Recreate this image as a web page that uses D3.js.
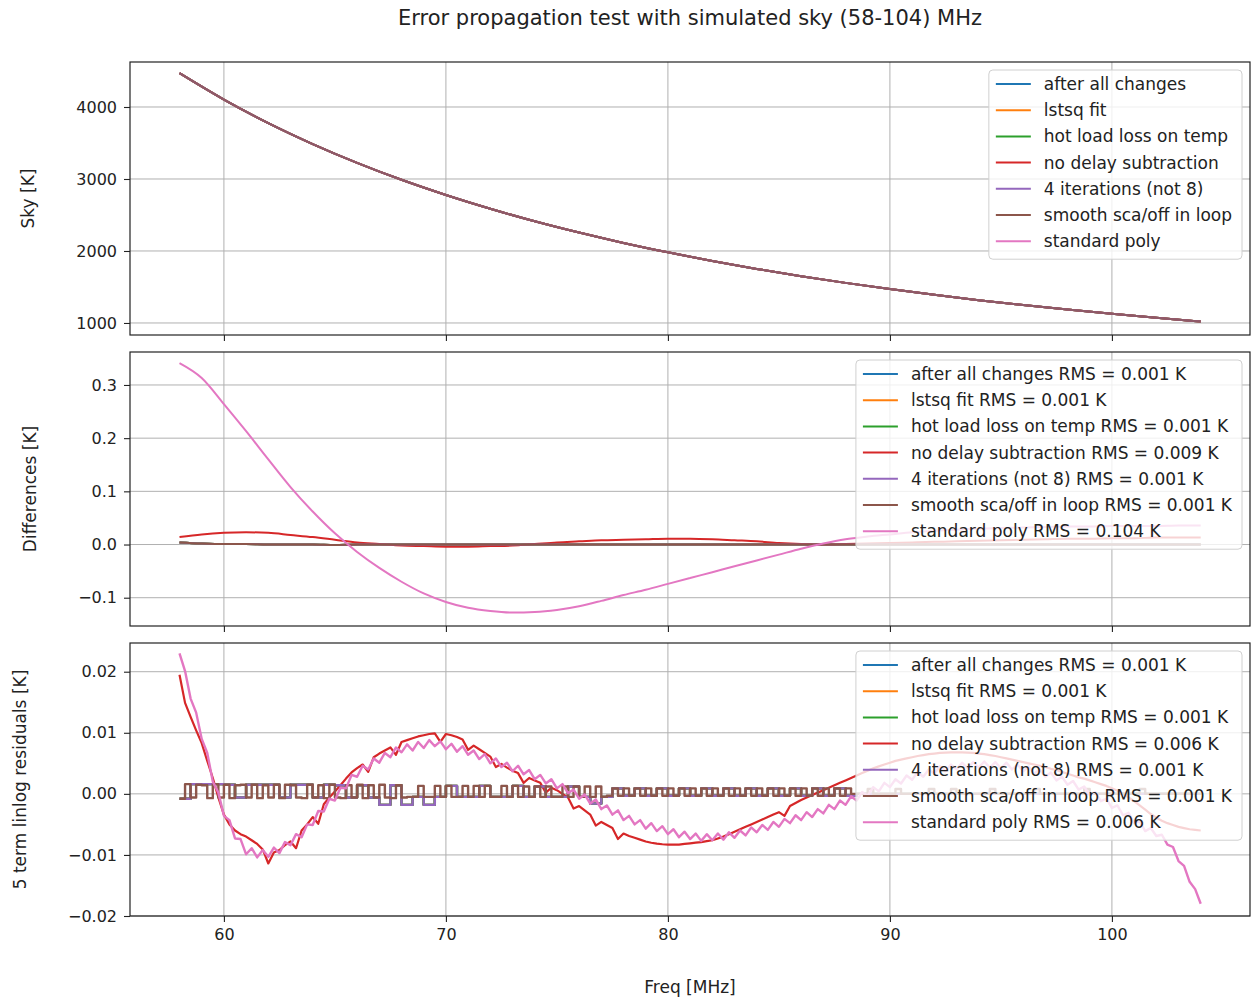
<!DOCTYPE html>
<html>
<head>
<meta charset="utf-8">
<script src="https://cdn.jsdelivr.net/npm/d3@7"></script>
<style>
  body { margin: 0; background: #fff; }
  svg text { font-family: "DejaVu Sans", sans-serif; fill: #222; }
</style>
</head>
<body>
<svg id="chart" width="1252" height="1000"></svg>
<script>
// ---- data ----
const seriesNames = [
  'after all changes',
  'lstsq fit',
  'hot load loss on temp',
  'no delay subtraction',
  '4 iterations (not 8)',
  'smooth sca/off in loop',
  'standard poly',
];
const seriesColors = d3.schemeCategory10.slice(0, 7);
const rmsDiff = ['0.001', '0.001', '0.001', '0.009', '0.001', '0.001', '0.104'];
const rmsResid = ['0.001', '0.001', '0.001', '0.006', '0.001', '0.001', '0.006'];
const xTicks = [60, 70, 80, 90, 100];

// top panel: sky temperature every 2 MHz, all seven runs sit on top of each other
const freqSky = d3.range(58, 105, 2);
const skyTemp = [4470, 4103, 3776, 3485, 3224, 2989, 2778, 2587, 2413, 2256,
  2112, 1981, 1861, 1751, 1650, 1557, 1471, 1391, 1317, 1249,
  1186, 1127, 1072, 1020];

// middle panel: differences every 1 MHz
const freqDiff = d3.range(58, 104.5, 1);
const diffPoly = [0.341, 0.313, 0.264, 0.213, 0.160, 0.108, 0.062, 0.021, -0.014, -0.044,
  -0.070, -0.092, -0.108, -0.119, -0.125, -0.128, -0.127, -0.123, -0.116, -0.106,
  -0.095, -0.085, -0.074, -0.063, -0.052, -0.041, -0.030, -0.019, -0.008, 0.002,
  0.010, 0.015, 0.019, 0.023, 0.026, 0.028, 0.030, 0.031, 0.032, 0.033,
  0.034, 0.034, 0.035, 0.035, 0.035, 0.036, 0.036];
const diffNoDelay = [0.014, 0.019, 0.022, 0.023, 0.022, 0.018, 0.014, 0.009, 0.004, 0.001,
  -0.002, -0.003, -0.004, -0.004, -0.003, -0.002, 0.001, 0.004, 0.006, 0.008,
  0.009, 0.010, 0.011, 0.011, 0.010, 0.008, 0.006, 0.003, 0.001, 0.000,
  0.001, 0.002, 0.003, 0.004, 0.005, 0.006, 0.007, 0.008, 0.009, 0.010,
  0.011, 0.011, 0.012, 0.012, 0.013, 0.013, 0.013];
const diffBase = [0.004, 0.002, 0.001, 0.001, 0.000, 0.000, 0.000, -0.001, 0.000, 0.000,
  0.000, 0.000, 0.000, 0.000, 0.000, 0.000, 0.000, 0.000, 0.000, 0.000,
  0.000, 0.000, 0.000, 0.000, 0.000, 0.000, 0.000, 0.000, 0.000, 0.000,
  0.000, 0.000, 0.000, 0.000, 0.000, 0.000, 0.000, 0.000, 0.000, 0.000,
  0.000, 0.000, 0.000, 0.000, 0.000, 0.000, 0.000];

// bottom panel: residuals in mK
const freqQuarter = d3.range(0, 185).map(i => 58 + i * 0.25);
const freqHalf = d3.range(0, 93).map(i => 58 + i * 0.5);
const resPoly = [23.0, 20.1, 15.6, 13.3, 9.0, 6.7, 2.0, 0.2, -3.6, -4.3,
  -7.3, -7.4, -9.9, -8.9, -10.4, -9.2, -10.3, -8.8, -9.7, -7.9,
  -8.4, -6.6, -7.1, -5.0, -5.1, -2.8, -2.9, -0.8, -1.1, 1.0,
  0.9, 3.1, 2.8, 4.6, 4.0, 5.8, 5.1, 6.7, 6.0, 7.6,
  6.8, 8.1, 7.1, 8.5, 7.5, 8.8, 7.8, 8.6, 7.3, 8.2,
  6.9, 7.8, 6.4, 7.1, 5.7, 6.5, 5.0, 5.8, 4.4, 5.1,
  3.7, 4.6, 3.2, 3.9, 2.4, 3.1, 1.7, 2.4, 0.9, 1.6,
  0.1, 0.7, -0.8, -0.1, -1.6, -0.9, -2.5, -1.9, -3.4, -2.7,
  -4.3, -3.6, -5.0, -4.3, -5.7, -4.8, -6.1, -5.3, -6.6, -5.8,
  -7.1, -6.2, -7.4, -6.5, -7.7, -6.6, -7.6, -6.5, -7.5, -6.3,
  -7.2, -6.0, -6.8, -5.5, -6.3, -5.1, -5.9, -4.6, -5.4, -4.1,
  -4.8, -3.5, -4.3, -3.0, -3.8, -2.5, -3.2, -1.8, -2.5, -1.1,
  -1.8, -0.4, -1.1, 0.3, -0.3, 1.1, 0.4, 1.8, 1.1, 2.4,
  1.7, 3.0, 2.3, 3.6, 2.8, 4.0, 3.3, 4.5, 3.7, 4.8,
  4.0, 5.1, 4.2, 5.2, 4.3, 5.3, 4.3, 5.2, 4.2, 5.1,
  4.0, 4.8, 3.7, 4.5, 3.3, 4.0, 2.8, 3.5, 2.2, 2.8,
  1.5, 2.1, 0.7, 1.2, -0.2, 0.3, -1.2, -0.8, -2.3, -1.9,
  -3.5, -3.1, -4.8, -4.5, -6.1, -5.6, -6.9, -6.7, -8.3, -8.7,
  -11.0, -11.8, -14.4, -15.6, -18.0];
const resNoDelay = [19.5, 14.9, 12.6, 10.4, 8.3, 5.4, 2.6, -0.6, -3.4, -5.0,
  -6.0, -6.6, -7.0, -7.6, -8.2, -9.1, -11.4, -9.6, -9.2, -8.4,
  -7.8, -8.9, -6.0, -5.0, -3.8, -4.9, -1.7, -0.6, 0.4, 1.4,
  2.5, 3.5, 4.2, 4.8, 3.6, 6.0, 6.6, 7.1, 7.6, 6.4,
  8.5, 8.8, 9.1, 9.4, 9.6, 9.8, 9.9, 8.5, 9.8, 9.6,
  9.3, 8.9, 7.2, 7.9, 7.3, 6.7, 6.1, 4.4, 4.9, 4.3,
  3.8, 3.4, 1.8, 2.6, 2.2, 1.8, 0.2, 1.0, 0.6, 0.0,
  -0.6, -2.4, -2.0, -2.7, -3.4, -5.2, -4.6, -5.1, -5.6, -7.4,
  -6.5, -6.9, -7.2, -7.5, -7.8, -8.0, -8.15, -8.25, -8.3, -8.3,
  -8.3, -8.2, -8.1, -8.0, -7.9, -7.75, -7.6, -7.3, -7.0, -6.6,
  -6.2, -5.8, -5.4, -5.0, -4.6, -4.2, -3.8, -3.4, -3.0, -3.6,
  -2.0, -1.5, -1.0, -0.6, -0.2, 0.2, 0.6, 1.0, 1.4, 1.8,
  2.2, 2.6, 3.0, 3.4, 3.8, 4.2, 4.5, 4.8, 5.1, 5.4,
  5.6, 5.8, 6.0, 6.2, 6.35, 6.5, 6.6, 6.7, 6.75, 6.8,
  6.8, 6.8, 6.75, 6.7, 6.6, 6.5, 6.35, 6.2, 6.0, 5.8,
  5.6, 5.4, 5.2, 5.0, 4.8, 4.6, 4.4, 4.1, 3.9, 3.6,
  3.3, 3.0, 2.7, 2.5, 2.2, 1.9, 1.6, 1.3, 0.9, 0.5,
  0.0, -0.6, -1.2, -1.9, -2.6, -3.3, -3.9, -4.4, -4.8, -5.1,
  -5.4, -5.6, -5.8, -5.9, -6.0];
const resSmooth = [-0.8, 1.6, -0.6, 1.5, 1.4, -0.7, 1.6, -0.6, 1.5, -0.7, 1.4, 1.5, -0.6, 1.5, -0.7,
  1.4, -0.6, 1.5, -0.7, 1.5, 1.4, -0.6, -0.7, 1.5, -0.6, 1.4, -0.7, 1.5, -0.6, -0.7, 1.4, -0.6, 1.5,
  -0.7, 1.4, -0.6, 1.5, -0.6, -0.7, 1.4, -0.6,
  -0.5, -0.5, 1.3, -0.5, -0.5, 1.3, -0.5, 1.3, -0.5, -0.5, 1.3, -0.5, 1.3, -0.5, 1.3, -0.5, -0.5, 1.3, -0.5, 1.3,
  -0.5, 1.2, -0.5, 1.2, -0.5, 1.2, -0.5, -0.5, 1.2, -0.5, 1.2, -0.5, 1.2, -0.5, 1.2, -0.5,
  -0.3, 0.9, -0.3, 0.9, -0.3, 0.9, -0.3, 0.9, -0.3, 0.9, -0.3, 0.9, -0.3, 0.9, -0.3, 0.9,
  -0.3, 0.9, -0.3, 0.9, -0.3, 0.9, -0.3, 0.9, -0.3, 0.9, -0.3, 0.9, -0.3, 0.9, -0.3, 0.9,
  -0.3, 0.9, -0.3, 0.9, -0.3, 0.9, -0.3, 0.9, -0.3, 0.9, -0.3, 0.9,
  0, 0, 0, 0.8, 0, 0, 0, 0, 0.8, 0, 0, 0, 0, 0, 0.8, 0,
  0, 0, 0.8, 0, 0, 0, 0, 0, 0, 0.8, 0, 0, 0, 0, 0, 0,
  0, 0.8, 0, 0, 0, 0, 0, 0, 0, 0, 0.8, 0, 0, 0, 0, 0,
  0, 0, 0, 0, 0.8, 0, 0, 0, 0, 0, 0, 0, 0, 0, 0, 0];
const resIter = [-0.8, 1.6, 1.6, 1.6, 1.5, -0.6, 1.5, 1.5, 1.5, -0.6,
  1.5, 1.5, -0.6, 1.5, 1.4, -0.6, 1.4, -0.6, -1.8, 1.4,
  -1.8, -0.5, -1.8, -0.5, 1.3, -0.5, -0.5, 1.3, -0.5, -0.5,
  1.3, -0.5, 1.2, -0.5, -0.5, 1.2, -0.5, -1.6, -0.5, 0.9,
  -0.3, 0.9, -0.3, 0.9, -0.3, 0.9, -0.3, 0.9, -0.3, 0.9, -0.3,
  0.9, -0.3, 0.9, -0.3, 0.9, -0.3, 0.9, -0.3, 0.9, -0.3,
  0, 0, 0, 0, 0, 0, 0, 0, 0, 0, 0, 0, 0, 0, 0, 0,
  0, 0, 0, 0, 0, 0, 0, 0, 0, 0, 0, 0, 0, 0, 0, 0];
// the first three runs lie exactly under the 4-iteration curve
const resBase = resIter;

// ---- layout ----
const svg = d3.select('#chart');
const axLeft = 130;
const axRight = 1250;

const x = d3.scaleLinear().domain([55.77, 106.22]).range([axLeft, axRight]);

const panels = [
  {
    top: 62, bottom: 335, domain: [833, 4625],
    ticks: [1000, 2000, 3000, 4000], fmt: d3.format('d'),
    label: 'Sky [K]', labelX: 34,
    legend: seriesNames,
    order: [6, 0, 1, 2, 3, 4, 5],
    series: seriesNames.map(() => ({ freq: freqSky, vals: skyTemp, curve: d3.curveMonotoneX })),
    topOpacity: 0.75,
  },
  {
    top: 352, bottom: 626, domain: [-0.1532, 0.362],
    ticks: [-0.1, 0, 0.1, 0.2, 0.3], fmt: d3.format('.1f'),
    label: 'Differences [K]', labelX: 36,
    legend: seriesNames.map((n, i) => `${n} RMS = ${rmsDiff[i]} K`),
    order: [0, 1, 2, 3, 4, 5, 6],
    series: [diffBase, diffBase, diffBase, diffNoDelay, diffBase, diffBase, diffPoly]
      .map(v => ({ freq: freqDiff, vals: v, curve: d3.curveMonotoneX })),
  },
  {
    top: 643, bottom: 916, domain: [-0.02, 0.0247],
    ticks: [-0.02, -0.01, 0, 0.01, 0.02], fmt: d3.format('.2f'),
    label: '5 term linlog residuals [K]', labelX: 26,
    legend: seriesNames.map((n, i) => `${n} RMS = ${rmsResid[i]} K`),
    order: [0, 1, 2, 3, 4, 5, 6],
    mk: true,
    series: [
      { freq: freqHalf, vals: resBase, curve: d3.curveStepAfter, w: 2.4 },
      { freq: freqHalf, vals: resBase, curve: d3.curveStepAfter, w: 2.4 },
      { freq: freqHalf, vals: resBase, curve: d3.curveStepAfter, w: 2.4 },
      { freq: freqQuarter, vals: resNoDelay, curve: d3.curveLinear, w: 2.2 },
      { freq: freqHalf, vals: resIter, curve: d3.curveStepAfter, w: 2.4 },
      { freq: freqQuarter, vals: resSmooth, curve: d3.curveStepAfter, w: 2.4 },
      { freq: freqQuarter, vals: resPoly, curve: d3.curveLinear, w: 2.4 },
    ],
  },
];

// title and shared x label
svg.append('text')
  .attr('x', (axLeft + axRight) / 2)
  .attr('y', 25)
  .attr('text-anchor', 'middle')
  .attr('font-size', '21px')
  .text('Error propagation test with simulated sky (58-104) MHz');

svg.append('text')
  .attr('x', (axLeft + axRight) / 2)
  .attr('y', 993)
  .attr('text-anchor', 'middle')
  .attr('font-size', '17px')
  .text('Freq [MHz]');

panels.forEach((p, pi) => {
  const y = d3.scaleLinear().domain(p.domain).range([p.bottom, p.top]);
  const g = svg.append('g');
  const h = p.bottom - p.top;

  // grid
  g.append('g')
    .selectAll('line')
    .data(xTicks)
    .enter()
    .append('line')
    .attr('x1', d => x(d))
    .attr('x2', d => x(d))
    .attr('y1', p.top)
    .attr('y2', p.bottom)
    .attr('stroke', '#b0b0b0')
    .attr('stroke-width', 1);

  g.append('g')
    .selectAll('line')
    .data(p.ticks)
    .enter()
    .append('line')
    .attr('x1', axLeft)
    .attr('x2', axRight)
    .attr('y1', d => y(d))
    .attr('y2', d => y(d))
    .attr('stroke', '#b0b0b0')
    .attr('stroke-width', 1);

  // lines
  const clipId = `clip${pi}`;
  g.append('clipPath')
    .attr('id', clipId)
    .append('rect')
    .attr('x', axLeft)
    .attr('y', p.top)
    .attr('width', axRight - axLeft)
    .attr('height', h);

  const lines = g.append('g').attr('clip-path', `url(#${clipId})`);
  p.order.forEach((i, k) => {
    const s = p.series[i];
    const pts = s.freq.map((f, j) => [f, p.mk ? s.vals[j] / 1000 : s.vals[j]]);
    const line = d3.line()
      .x(d => x(d[0]))
      .y(d => y(d[1]))
      .curve(s.curve);
    const isTop = k === p.order.length - 1;
    lines.append('path')
      .datum(pts)
      .attr('d', line)
      .attr('fill', 'none')
      .attr('stroke', seriesColors[i])
      .attr('stroke-opacity', isTop && p.topOpacity ? p.topOpacity : 1)
      .attr('stroke-width', s.w || 2)
      .attr('stroke-linejoin', 'round');
  });

  // axes
  const yAxis = d3.axisLeft(y)
    .tickValues(p.ticks)
    .tickFormat(p.fmt)
    .tickSize(6)
    .tickPadding(7)
    .tickSizeOuter(0);
  const ya = g.append('g')
    .attr('transform', `translate(${axLeft},0)`)
    .call(yAxis);
  ya.select('.domain').remove();

  const xAxis = d3.axisBottom(x)
    .tickValues(xTicks)
    .tickSize(6)
    .tickPadding(7)
    .tickSizeOuter(0)
    .tickFormat(pi === 2 ? d3.format('d') : () => '');
  const xa = g.append('g')
    .attr('transform', `translate(0,${p.bottom})`)
    .call(xAxis);
  xa.select('.domain').remove();

  g.selectAll('.tick line').attr('stroke', '#222').attr('stroke-width', 1.1);
  g.selectAll('.tick text')
    .attr('font-family', '"DejaVu Sans", sans-serif')
    .attr('font-size', '16px')
    .attr('fill', '#222');

  // spines
  g.append('rect')
    .attr('x', axLeft)
    .attr('y', p.top)
    .attr('width', axRight - axLeft)
    .attr('height', h)
    .attr('fill', 'none')
    .attr('stroke', '#222')
    .attr('stroke-width', 1.2);

  // y label
  g.append('text')
    .attr('transform', `translate(${p.labelX},${(p.top + p.bottom) / 2}) rotate(-90)`)
    .attr('text-anchor', 'middle')
    .attr('font-size', '17px')
    .text(p.label);

  // legend
  const lg = g.append('g');
  const box = lg.append('rect');
  const rowH = 26.2;
  const texts = p.legend.map((t, i) => lg.append('text')
    .attr('y', p.top + 8 + 14 + i * rowH)
    .attr('dy', '0.35em')
    .attr('font-size', '17px')
    .text(t));
  const maxW = d3.max(texts, t => t.node().getComputedTextLength());
  const boxW = 55 + maxW + 10;
  const boxLeft = axRight - 8 - boxW;
  const boxH = 14 + 6 * rowH + 18;
  box.attr('x', boxLeft)
    .attr('y', p.top + 8)
    .attr('width', boxW)
    .attr('height', boxH)
    .attr('rx', 4)
    .attr('fill', '#fff')
    .attr('fill-opacity', 0.8)
    .attr('stroke', '#d0d0d0')
    .attr('stroke-width', 1);
  texts.forEach(t => t.attr('x', boxLeft + 55));
  p.legend.forEach((t, i) => {
    lg.append('line')
      .attr('x1', boxLeft + 7)
      .attr('x2', boxLeft + 42)
      .attr('y1', p.top + 8 + 14 + i * rowH)
      .attr('y2', p.top + 8 + 14 + i * rowH)
      .attr('stroke', seriesColors[i])
      .attr('stroke-width', 2);
  });
});
</script>
</body>
</html>
